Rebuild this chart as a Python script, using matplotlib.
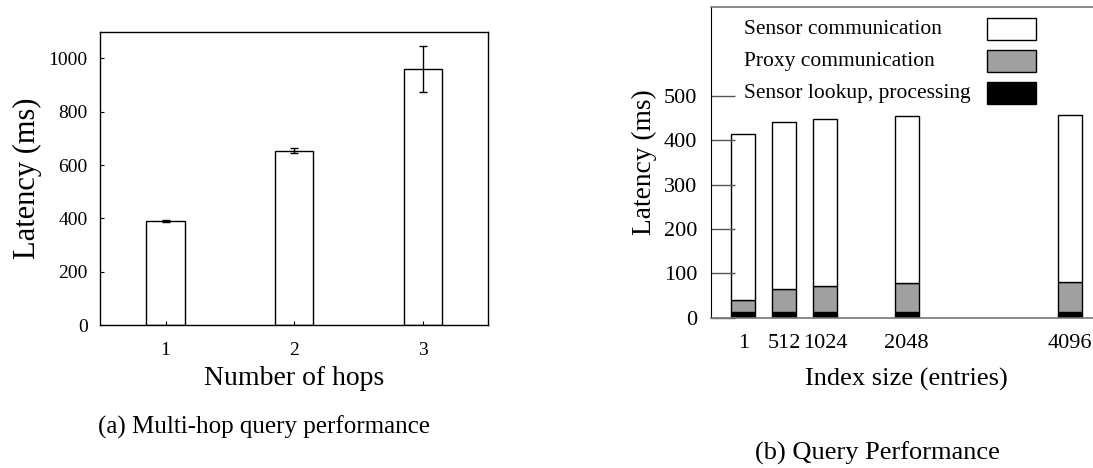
import numpy as np
import matplotlib
matplotlib.use('Agg')
from matplotlib import pyplot as plt
from matplotlib.patches import Rectangle

plt.rcParams['font.family'] = ['Liberation Serif', 'DejaVu Serif']

# (a) multi-hop
hops = [1, 2, 3]
hop_latency = [389, 654, 959]
hop_err = [4, 10, 87]

# (b) index size, stacked
index_size = [1, 512, 1024, 2048, 4096]
lookup = [12, 12, 12, 12, 12]
proxy = [27, 53, 60, 66, 68]
sensor = [376, 377, 377, 376, 377]
legend_labels = ['Sensor communication', 'Proxy communication', 'Sensor lookup, processing']
legend_colors = ['white', '#a0a0a0', 'black']

fig = plt.figure(figsize=(10.93, 4.68), dpi=100)

# ---- left panel
ax1 = fig.add_axes([100/1093, 1-325/468, 388/1093, 293.3/468])
ax1.bar(hops, hop_latency, width=0.3, color='white', edgecolor='black', linewidth=1)
ax1.errorbar(hops, hop_latency, yerr=hop_err, fmt='none', ecolor='black', elinewidth=1, capsize=3)
ax1.set_xlim(0.49, 3.507)
ax1.set_ylim(0, 1100)
ax1.set_xticks(hops)
ax1.set_yticks([0, 200, 400, 600, 800, 1000])
ax1.tick_params(axis='both', direction='in', length=3, labelsize=14, top=False, right=False)
ax1.tick_params(axis='x', pad=12)
ax1.tick_params(axis='y', pad=9)
ax1.set_ylabel('Latency (ms)', fontsize=22)
ax1.set_xlabel('Number of hops', fontsize=20)
ax1.yaxis.set_label_coords(-0.15, 0.5)
ax1.xaxis.set_label_coords(0.4995, -0.140)
for s in ax1.spines.values():
    s.set_linewidth(1)

# ---- right panel
ax2 = fig.add_axes([711/1093, 1-317.7/468, 382/1093, 310.4/468])
x = np.array(index_size)
b = np.zeros(len(x))
for vals, col in zip([lookup, proxy, sensor], ['black', '#a0a0a0', 'white']):
    ax2.bar(x, vals, bottom=b, width=300, color=col, edgecolor='black', linewidth=1)
    b = b + np.array(vals)
ax2.set_xlim(-402, 4382)
ax2.set_ylim(0, 700)
ax2.set_xticks(index_size)
ax2.set_yticks([0, 100, 200, 300, 400, 500])
ax2.tick_params(axis='y', direction='in', length=17, width=1, color='#555555', labelsize=16, pad=10, right=False)
ax2.tick_params(axis='x', length=0, labelsize=16, pad=12)
ax2.spines['right'].set_visible(False)
for k in ['top', 'bottom']:
    ax2.spines[k].set_color('#777777')
    ax2.spines[k].set_linewidth(1.2)
ax2.set_ylabel('Latency (ms)', fontsize=19.7)
ax2.set_xlabel('Index size (entries)', fontsize=19)
ax2.yaxis.set_label_coords(-0.141, 0.5)
ax2.xaxis.set_label_coords(0.512, -0.162)

# legend: text left, swatch right
rows_y = [0.930, 0.826, 0.723]
for lab, col, yy in zip(legend_labels, legend_colors, rows_y):
    ax2.text(0.0864, yy, lab, transform=ax2.transAxes, fontsize=15.5, va='center', ha='left')
    ax2.add_patch(Rectangle((0.7225, yy-0.035), 0.129, 0.07, transform=ax2.transAxes,
                            facecolor=col, edgecolor='black', linewidth=1))

fig.text(264/1093, 1-427/468, '(a) Multi-hop query performance', fontsize=18, ha='center', va='center')
fig.text(877/1093, 1-453/468, '(b) Query Performance', fontsize=19, ha='center', va='center')

plt.savefig('out.png', dpi=100)
